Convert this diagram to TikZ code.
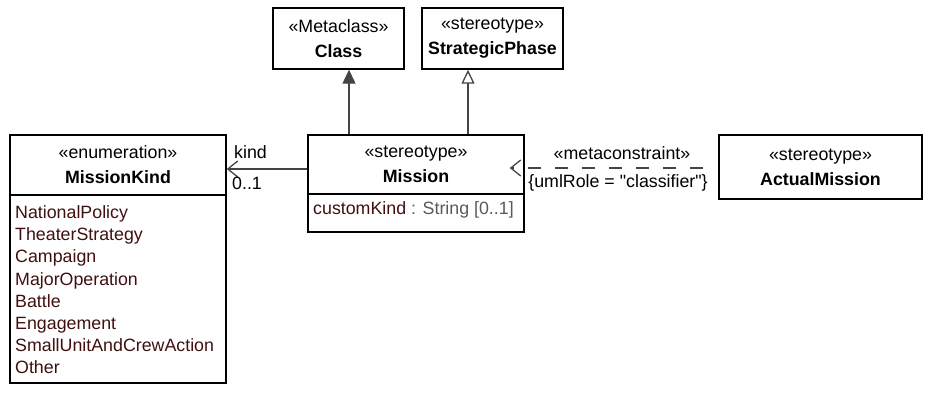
\documentclass[tikz,border=0pt]{standalone}
\usepackage{fontspec}
\setmainfont{Liberation Sans}
\usetikzlibrary{arrows.meta}
\definecolor{umlLine}{RGB}{68,68,68}
\definecolor{umlName}{RGB}{64,16,16}
\definecolor{umlType}{RGB}{90,90,90}

\begin{document}
\begin{tikzpicture}[x=1pt, y=-1pt, font=\fontsize{17.8}{25}\selectfont,
  classbox/.style={draw=black, line width=1.4pt, fill=white, align=center, inner sep=0pt},
  compbox/.style={draw=black, line width=1.4pt, fill=white, inner sep=0pt},
  littext/.style={anchor=base west, inner sep=0pt, text=umlName},
  conn/.style={draw=umlLine, line width=1.3pt},
  genfill/.style={conn, -{Triangle[length=14pt, width=13pt, fill=umlLine]}},
  genopen/.style={conn, -{Triangle[open, length=14pt, width=13pt, fill=white]}},
  assoc/.style={conn, -{Straight Barb[length=10pt, width=16pt]}}]
\useasboundingbox (0,0) rectangle (926,393);
%% Metaclass and parent stereotype
\node[classbox, minimum width=131pt, minimum height=61pt]
  (class) at (338.5, 38.5) {«Metaclass»\\\textbf{Class}};
\node[classbox, minimum width=141pt, minimum height=61pt]
  (strategic) at (492.5, 38.5) {«stereotype»\\\textbf{StrategicPhase}};
%% Mission stereotype
\node[classbox, minimum width=216pt, minimum height=59pt]
  (missionhead) at (416, 164.5) {«stereotype»\\\textbf{Mission}};
\node[compbox, minimum width=216pt, minimum height=38pt]
  (missionbody) at (416, 213) {};
\node[anchor=base west, inner sep=0pt] (customkind) at (313, 214.5)
  {\textcolor{umlName}{customKind} \textcolor{umlType}{: String [0..1]}};
%% Enumeration
\node[classbox, minimum width=216pt, minimum height=60pt]
  (kindhead) at (118, 165) {«enumeration»\\\textbf{MissionKind}};
\node[compbox, minimum width=216pt, minimum height=188pt]
  (kindbody) at (118, 289) {};
\foreach \lit [count=\i from 0] in {NationalPolicy, TheaterStrategy, Campaign,
    MajorOperation, Battle, Engagement, SmallUnitAndCrewAction, Other}
  \node[littext] (lit\i) at (15, 218.5+22.2*\i) {\lit};
%% Applied stereotype
\node[classbox, minimum width=203pt, minimum height=64pt]
  (actual) at (820.5, 167) {«stereotype»\\\textbf{ActualMission}};
%% Connectors
\draw[genfill] ([xshift=-67pt]missionhead.north)
  -- ([xshift=-67pt]missionhead.north |- class.south);
\draw[genopen] ([xshift=52pt]missionhead.north)
  -- ([xshift=52pt]missionhead.north |- strategic.south);
\draw[assoc] ([yshift=-4.5pt]missionhead.west)
  -- ([yshift=-4.5pt]missionhead.west -| kindhead.east);
\node[anchor=west, inner sep=0pt] (kindrole) at (234, 152) {kind};
\node[anchor=west, inner sep=0pt] (kindmult) at (232, 183) {0..1};
\draw[assoc, dash pattern=on 13pt off 14pt] ([xshift=-15pt, yshift=-1pt]actual.west)
  -- ([xshift=-15pt, yshift=-1pt]actual.west -| missionhead.east);
\node[inner sep=0pt] (metalabel) at (622, 153) {«metaconstraint»};
\node[inner sep=0pt] (rolelabel) at (618, 183)
  {\{umlRole = \textquotedbl classifier\textquotedbl\}};
\end{tikzpicture}
\end{document}
